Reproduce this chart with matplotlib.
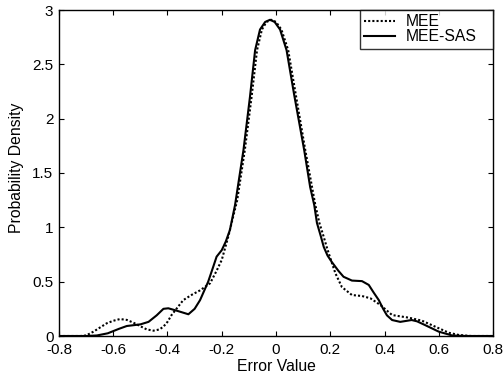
import matplotlib
matplotlib.use("Agg")
import matplotlib.pyplot as plt

plt.rcParams['font.family'] = ['Liberation Sans', 'DejaVu Sans']

# MEE-SAS (solid)
sas_x = [-0.80, -0.70, -0.66, -0.62, -0.58, -0.55, -0.50, -0.47, -0.44, -0.415, -0.397,
         -0.366, -0.323, -0.30, -0.28, -0.25, -0.231, -0.219, -0.20, -0.185, -0.17, -0.151,
         -0.12, -0.096, -0.077, -0.059, -0.04, -0.022, -0.005, 0.015, 0.039, 0.067, 0.104,
         0.126, 0.141, 0.151, 0.165, 0.176, 0.19, 0.206, 0.23, 0.249, 0.28, 0.317, 0.342,
         0.36, 0.379, 0.395, 0.409, 0.428, 0.458, 0.50, 0.52, 0.55, 0.60, 0.649, 0.70, 0.80]
sas_y = [0, 0, 0.005, 0.025, 0.065, 0.092, 0.107, 0.13, 0.19, 0.25, 0.255,
         0.233, 0.20, 0.25, 0.33, 0.50, 0.64, 0.73, 0.79, 0.87, 0.975, 1.205,
         1.71, 2.20, 2.63, 2.82, 2.89, 2.91, 2.89, 2.82, 2.63, 2.22, 1.71,
         1.37, 1.205, 1.04, 0.92, 0.82, 0.74, 0.68, 0.60, 0.545, 0.51, 0.505, 0.47,
         0.40, 0.33, 0.25, 0.19, 0.147, 0.13, 0.147, 0.135, 0.10, 0.04, 0.005, 0, 0]

# MEE (dotted)
mee_x = [-0.80, -0.72, -0.70, -0.673, -0.624, -0.60, -0.575, -0.55, -0.526, -0.50, -0.477,
         -0.452, -0.43, -0.415, -0.40, -0.385, -0.342, -0.31, -0.28, -0.243, -0.219, -0.2,
         -0.176, -0.143, -0.115, -0.09, -0.07, -0.052, -0.035, -0.017, 0.0, 0.02, 0.045,
         0.073, 0.108, 0.145, 0.16, 0.175, 0.188, 0.205, 0.219, 0.243, 0.28, 0.317, 0.348,
         0.385, 0.428, 0.46, 0.489, 0.538, 0.587, 0.637, 0.673, 0.72, 0.80]
mee_y = [0, 0, 0.005, 0.04, 0.117, 0.14, 0.156, 0.148, 0.123, 0.09, 0.061,
         0.049, 0.06, 0.086, 0.13, 0.193, 0.33, 0.38, 0.42, 0.485, 0.60, 0.70,
         0.914, 1.25, 1.71, 2.20, 2.63, 2.82, 2.89, 2.91, 2.89, 2.82, 2.63,
         2.22, 1.71, 1.205, 1.04, 0.92, 0.81, 0.68, 0.577, 0.45, 0.377, 0.368, 0.347,
         0.285, 0.193, 0.18, 0.169, 0.141, 0.086, 0.03, 0.01, 0, 0]

xticks = [-0.8, -0.6, -0.4, -0.2, 0, 0.2, 0.4, 0.6, 0.8]
xticklabels = ['-0.8', '-0.6', '-0.4', '-0.2', '0', '0.2', '0.4', '0.6', '0.8']
yticks = [0, 0.5, 1, 1.5, 2, 2.5, 3]
yticklabels = ['0', '0.5', '1', '1.5', '2', '2.5', '3']

fs_tick = 11
fs_lab = 11.3
fig = plt.figure(figsize=(5.04, 3.79), dpi=100)
ax = fig.add_axes([59/504, 43/379, 434/504, 326/379])

ax.plot(mee_x, mee_y, color='black', linestyle=(0, (1, 1)), linewidth=1.5, label='MEE')
ax.plot(sas_x, sas_y, color='black', linestyle='-', linewidth=1.5, label='MEE-SAS')

ax.set_xlim(-0.8, 0.8)
ax.set_ylim(0, 3)
ax.set_xticks(xticks)
ax.set_xticklabels(xticklabels)
ax.set_yticks(yticks)
ax.set_yticklabels(yticklabels)
ax.tick_params(direction='in', top=True, right=True, length=3.5, width=0.8,
               labelsize=fs_tick, pad=4)
ax.tick_params(axis='x', pad=5)
for s in ax.spines.values():
    s.set_linewidth(1.0)

ax.set_xlabel('Error Value', fontsize=fs_lab)
ax.set_ylabel('Probability Density', fontsize=fs_lab)
ax.xaxis.set_label_coords(0.5, -0.072)
ax.yaxis.set_label_coords(-0.081, 0.517)

leg = ax.legend(loc='upper left', bbox_to_anchor=(0.6935, 0.0, 0.3065, 1.0),
                mode='expand', borderaxespad=0, fancybox=False, frameon=True,
                edgecolor='black', fontsize=fs_lab, handlelength=1.95, handletextpad=0.7,
                labelspacing=0.0, borderpad=0.28)
leg.get_frame().set_linewidth(1.0)

fig.savefig('out.png', dpi=100)
